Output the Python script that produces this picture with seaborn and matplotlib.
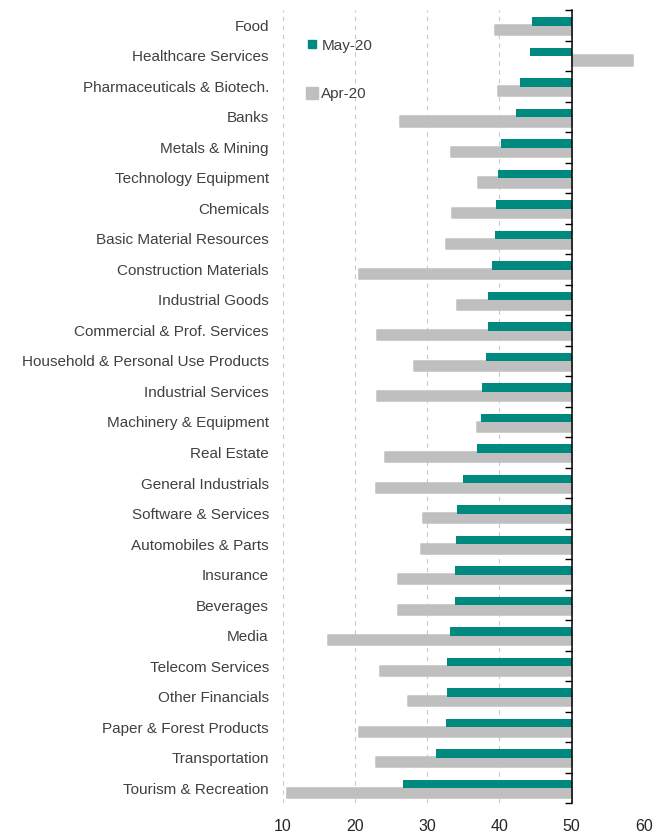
import numpy as np
import pandas as pd
import seaborn as sns
import matplotlib.pyplot as plt
from matplotlib.lines import Line2D

sectors = [
    "Food", "Healthcare Services", "Pharmaceuticals & Biotech.", "Banks",
    "Metals & Mining", "Technology Equipment", "Chemicals",
    "Basic Material Resources", "Construction Materials", "Industrial Goods",
    "Commercial & Prof. Services", "Household & Personal Use Products",
    "Industrial Services", "Machinery & Equipment", "Real Estate",
    "General Industrials", "Software & Services", "Automobiles & Parts",
    "Insurance", "Beverages", "Media", "Telecom Services", "Other Financials",
    "Paper & Forest Products", "Transportation", "Tourism & Recreation",
]
may_20 = [44.5, 44.2, 42.9, 42.3, 40.2, 39.8, 39.5, 39.4, 39.0, 38.4, 38.4,
          38.2, 37.6, 37.4, 36.9, 35.0, 34.2, 34.0, 33.9, 33.8, 33.2, 32.8,
          32.8, 32.6, 31.2, 26.7]
apr_20 = [39.4, 58.5, 39.8, 26.3, 33.3, 37.0, 33.5, 32.6, 20.5, 34.2, 23.0,
          28.2, 23.0, 36.9, 24.1, 22.9, 29.4, 29.2, 26.0, 26.0, 16.3, 23.5,
          27.4, 20.5, 22.9, 10.6]
series = ["May-20", "Apr-20"]
base = 50

green = "#00897E"
grey = "#BFBFBF"


def main():
    df = pd.DataFrame({
        "sector": sectors * 2,
        "series": ["May-20"] * len(sectors) + ["Apr-20"] * len(sectors),
        "value": may_20 + apr_20,
    })

    sns.set_style("white")
    plt.rcParams["font.family"] = ["Liberation Sans", "DejaVu Sans"]

    fig = plt.figure(figsize=(6.69, 8.34), dpi=100)
    ax = fig.add_axes([0.4226, 0.0368, 0.5396, 0.951])

    sns.barplot(data=df, y="sector", x="value", hue="series", hue_order=series,
                palette={"May-20": green, "Apr-20": grey}, saturation=1,
                dodge=True, legend=False, ax=ax)

    # bars start from 50, thin teal on top, thicker grey below
    shape = {"May-20": (-0.13, 0.27), "Apr-20": (0.155, 0.34)}
    for cont, name in zip(ax.containers, series):
        off, h = shape[name]
        for bar in cont:
            val = bar.get_width()
            i = round(bar.get_y() + bar.get_height() / 2)
            bar.set_y(i + off - h / 2)
            bar.set_height(h)
            bar.set_x(base)
            bar.set_width(val - base)
            if name == "Apr-20":
                bar.set_edgecolor(grey)
                bar.set_linewidth(1.1)
                bar.set_joinstyle("round")
                bar.set_zorder(2)
            else:
                bar.set_linewidth(0)
                bar.set_zorder(3)

    ax.set_xlim(10, 60)
    ax.set_ylim(len(sectors) - 0.5, -0.5)
    ax.set_xticks([10, 20, 30, 40, 50, 60])
    ax.set_xlabel("")
    ax.set_ylabel("")
    for s in ax.spines.values():
        s.set_visible(False)
    ax.set_axisbelow(True)
    ax.xaxis.grid(True, color="#c9c9c9", linewidth=0.8, linestyle=(0, (4, 4)))
    ax.yaxis.grid(False)
    ax.tick_params(axis="y", length=0, pad=10, labelsize=11, labelcolor="#404040")
    ax.tick_params(axis="x", length=0, pad=11, labelsize=11.5, labelcolor="#262626")

    # axis line at 50 with ticks between categories
    sec = ax.secondary_yaxis((base - 10) / (60 - 10))
    sec.set_alignment("left")
    sec.set_yticks(np.arange(-0.5, len(sectors), 1))
    sec.tick_params(axis="y", length=5, width=1, color="black",
                    labelleft=False, labelright=False, direction="out")
    sec.spines["left"].set_color("black")
    sec.spines["left"].set_linewidth(1.1)
    sec.set_zorder(5)

    handles = [
        Line2D([], [], marker="s", linestyle="", markersize=5.8, color=green),
        Line2D([], [], marker="s", linestyle="", markersize=8, color=grey),
    ]
    ax.legend(handles, series, loc="upper left", bbox_to_anchor=(0.0645, 0.964),
              frameon=False, labelspacing=2.25, handlelength=0.8,
              handletextpad=0.2, borderpad=0, borderaxespad=0, fontsize=11,
              labelcolor="#404040")

    fig.savefig("out.png", dpi=100)


if __name__ == "__main__":
    main()
